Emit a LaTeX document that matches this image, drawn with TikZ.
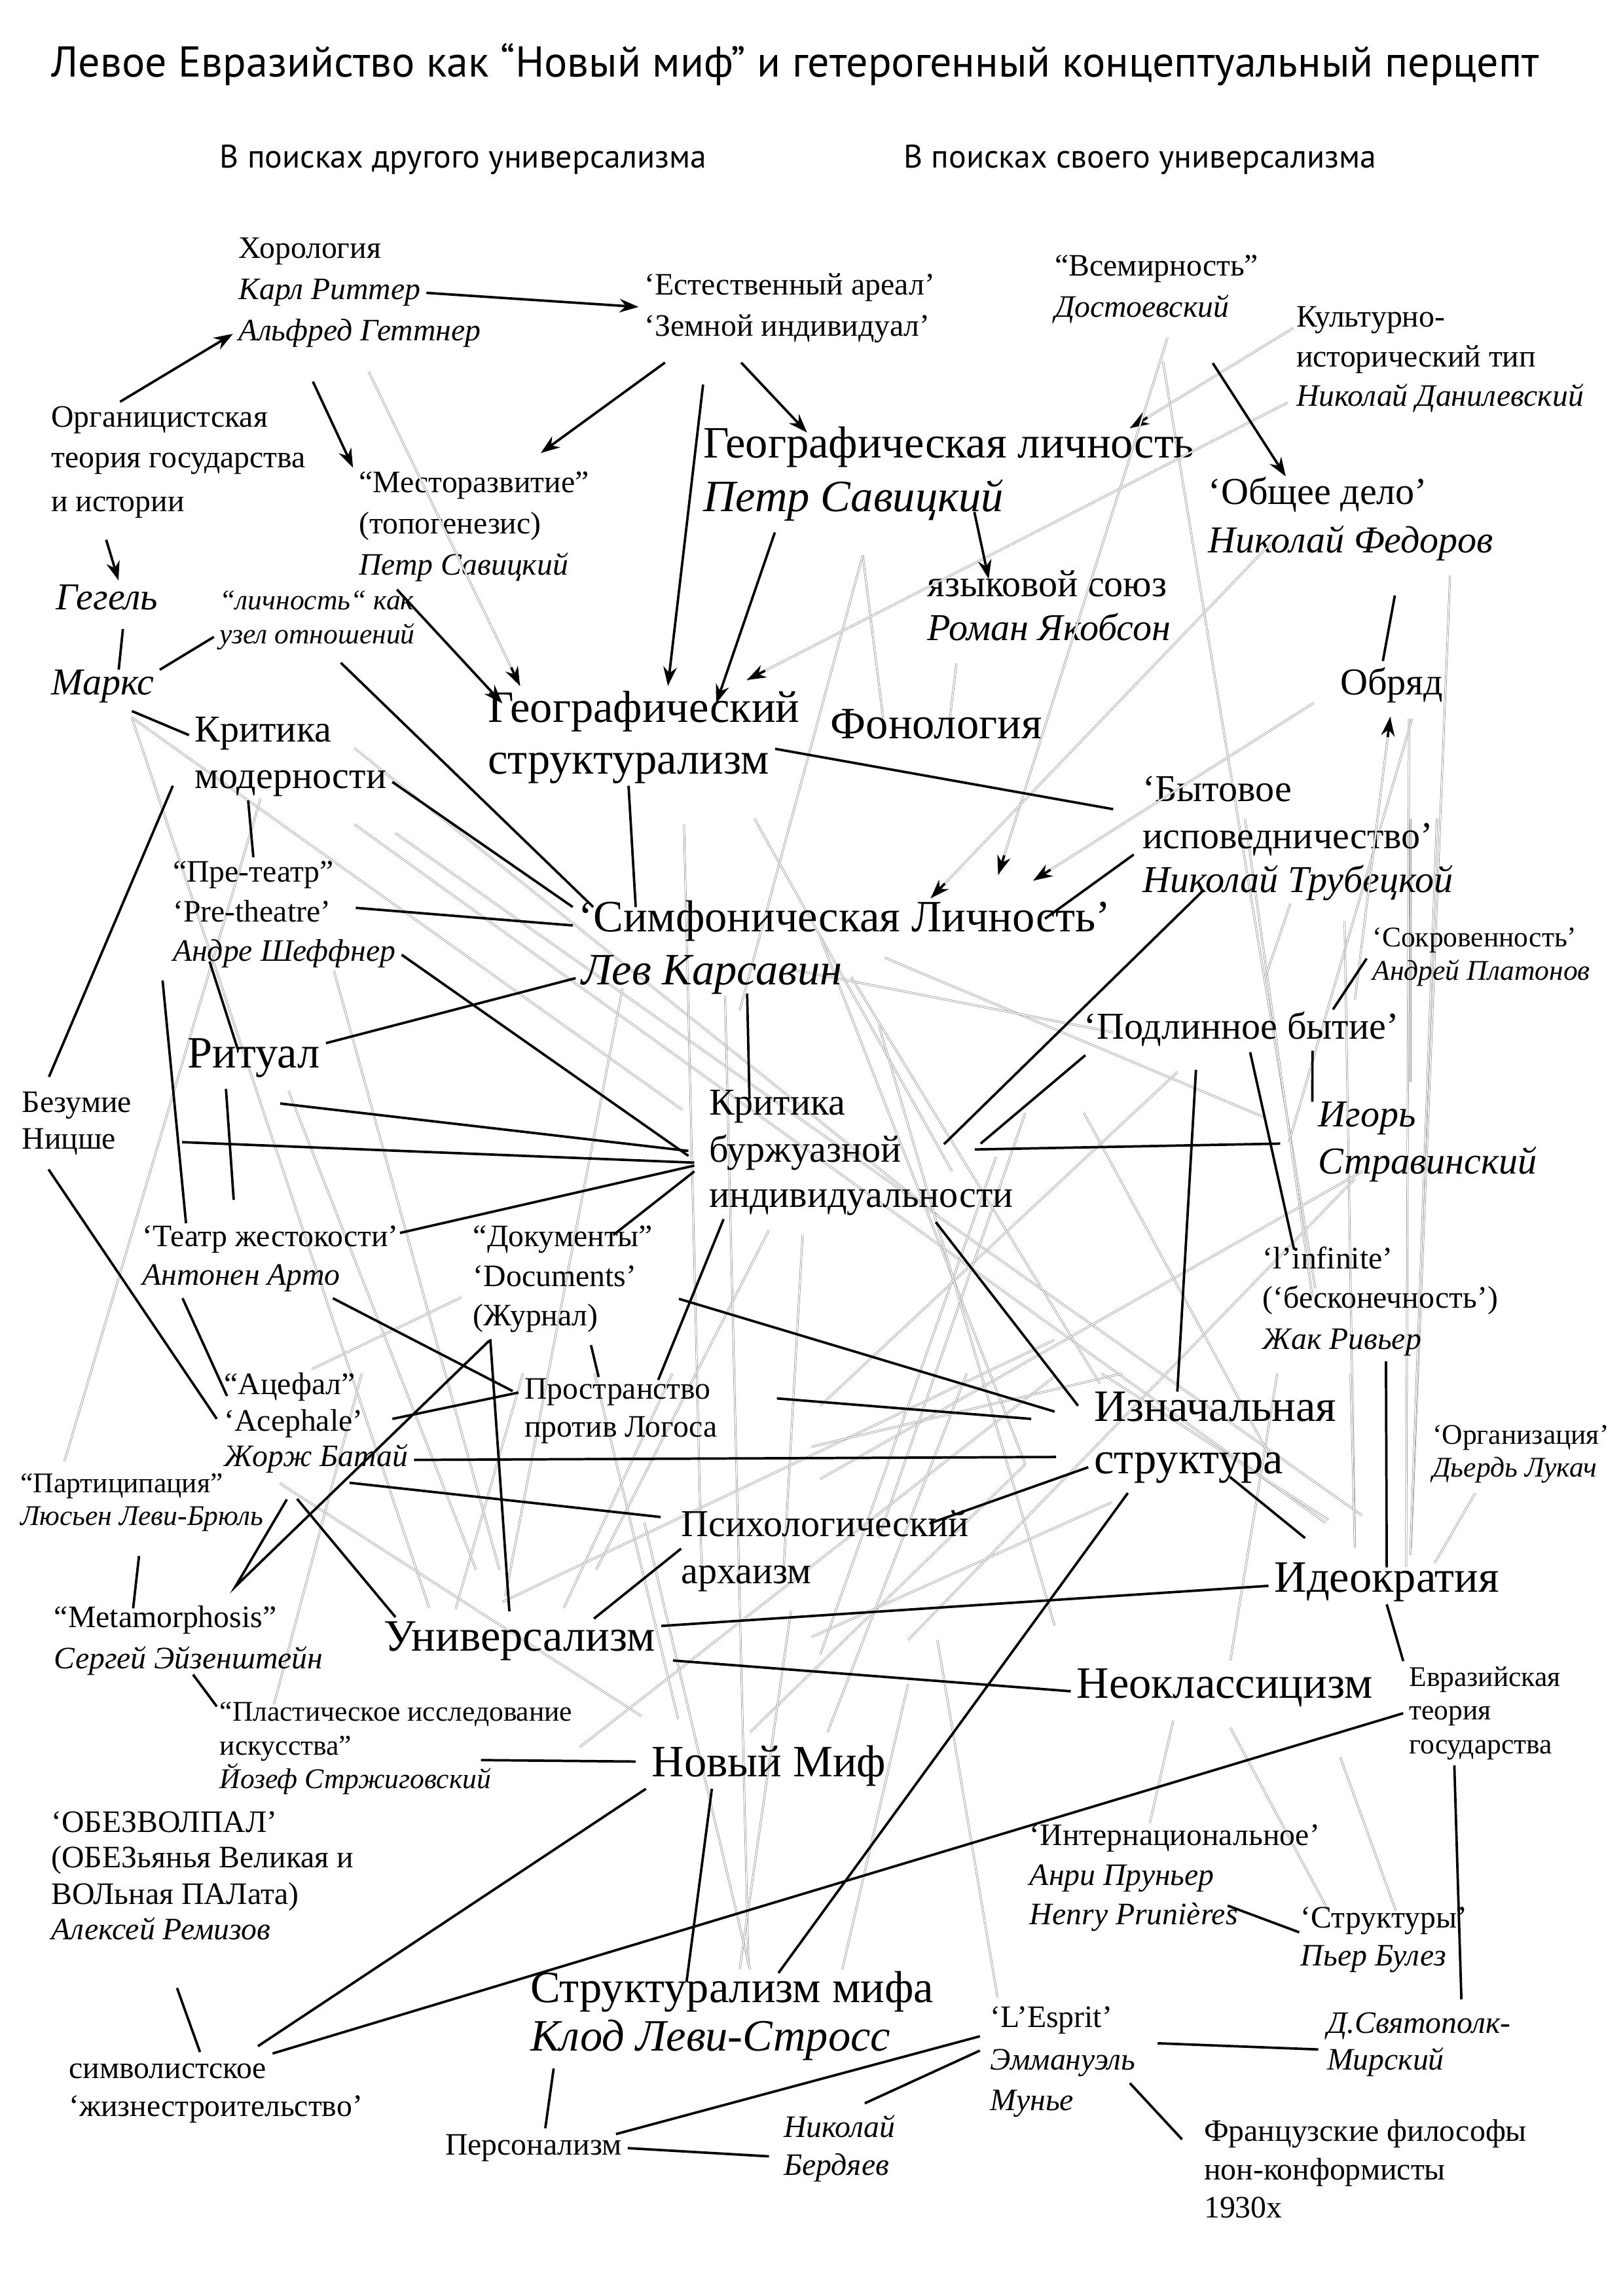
\documentclass[tikz,border=0pt]{standalone}
\usepackage{fontspec}
\setmainfont{Liberation Serif}
\newfontfamily\titlefont{PT Sans}
\usetikzlibrary{arrows.meta,calc}

\begin{document}
\begin{tikzpicture}[x=0.018953cm, y=-0.018953cm,
  every node/.style={anchor=west, inner sep=2pt, text height=0.7em, text depth=0.22em},
  big/.style={font=\fontsize{16.5}{20}\selectfont},
  mid/.style={font=\fontsize{14}{17}\selectfont},
  norm/.style={font=\fontsize{11.5}{14}\selectfont},
  sm/.style={font=\fontsize{10.5}{12.5}\selectfont},
  blk/.style={line width=0.9pt},
  arr/.style={blk, -{Stealth[length=7pt, width=5pt]}},
  gline/.style={draw=gray!85, line width=0.18pt, double=white, double distance=0.38pt}]
  \useasboundingbox (0,0) rectangle (1108,1568);

  % grey web
  \foreach \xa/\ya/\xb/\yb in {794/247/898/880, 589/379/603/491, 589/379/505/690, 653/453/648/495,
      990/393/963/1062, 962/491/960/1070, 964/491/880/780, 90/490/466/758, 90/490/293/1098,
      178/545/44/998, 242/511/640/830, 242/563/905/1040, 270/569/930/1035, 228/663/341/1072,
      197/745/325/1072, 467/563/479/1072, 425/675/345/1090, 515/559/650/800, 525/840/407/1072,
      548/843/535/1072, 213/935/315/886, 604/654/863/763, 540/662/760/705, 581/667/751/945,
      850/559/896/886, 918/629/925/1057, 963/559/963/739, 981/559/963/1057, 881/617/863/670,
      804/732/560/960, 930/800/560/1010, 925/805/620/1120, 191/1013/438/1172, 187/1164/247/938,
      311/1099/357/938, 343/1094/720/915, 385/1098/459/938, 396/1193/720/940, 463/1174/406/938,
      495/680/511/1342, 512/1183/700/1000, 554/988/766/938, 554/1118/759/1026, 565/1183/660/938,
      785/1245/801/1175, 840/1134/872/938, 840/1180/907/1305, 915/1200/953/1305, 925/1056/922/938,
      752/938/907/1038, 440/1040/512/1345, 620/1150/575/1345, 540/1100/505/1345, 640/1120/681/1364,
      560/640/700/1000, 700/760/600/1050, 680/790/560/1130, 740/760/870/1000, 600/700/720/1110}
    \draw[gline] (\xa,\ya) -- (\xb,\yb);

  % headings
  \node[font=\titlefont\fontsize{15.9}{18}\selectfont] (title) at (31,48) {Левое Евразийство как “Новый миф” и гетерогенный концептуальный перцепт};
  \node[font=\titlefont\fontsize{12}{14}\selectfont] (sub1) at (146,110) {В поисках другого универсализма};
  \node[font=\titlefont\fontsize{12}{14}\selectfont] (sub2) at (613,110) {В поисках своего универсализма};

  % nodes
  \node[norm] (horo1) at (159,172) {Хорология};
  \node[norm] (horo2) at (159,200) {\textit{Карл Риттер}};
  \node[norm] (horo3) at (159,228) {\textit{Альфред Геттнер}};
  \node[norm] (areal1) at (436,197) {‘Естественный ареал’};
  \node[norm] (areal2) at (436,225) {‘Земной индивидуал’};
  \node[norm] (vsem1) at (716,184) {“Всемирность”};
  \node[norm] (vsem2) at (716,212) {\textit{Достоевский}};
  \node[norm] (kult1) at (881,219) {Культурно-};
  \node[norm] (kult2) at (881,246) {исторический тип};
  \node[norm] (kult3) at (881,273) {\textit{Николай Данилевский}};
  \node[norm] (org1) at (31,287) {Органицистская};
  \node[norm] (org2) at (31,315) {теория государства};
  \node[norm] (org3) at (31,345) {и истории};
  \node[big] (geoL1) at (476,308) {Географическая личность};
  \node[big] (geoL2) at (476,345) {\textit{Петр Савицкий}};
  \node[norm] (mesto1) at (241,332) {“Месторазвитие”};
  \node[norm] (mesto2) at (241,360) {(топогенезис)};
  \node[norm] (mesto3) at (241,388) {\textit{Петр Савицкий}};
  \node[mid] (delo1) at (821,340) {‘Общее дело’};
  \node[mid] (delo2) at (821,373) {\textit{Николай Федоров}};
  \node[mid] (yaz1) at (629,403) {языковой союз};
  \node[mid] (yaz2) at (629,433) {\textit{Роман Якобсон}};
  \node[mid] (gegel) at (34,412) {\textit{Гегель}};
  \node[sm] (uzel1) at (146,412) {\textit{“личность“ как}};
  \node[sm] (uzel2) at (146,435) {\textit{узел отношений}};
  \node[mid] (marx) at (31,470) {\textit{Маркс}};
  \node[mid] (obr) at (911,470) {Обряд};
  \node[big] (geoS1) at (329,489) {Географический};
  \node[big] (geoS2) at (329,524) {структурализм};
  \node[big] (fono) at (563,500) {Фонология};
  \node[mid] (krm1) at (129,502) {Критика};
  \node[mid] (krm2) at (129,534) {модерности};
  \node[mid] (byt1) at (776,543) {‘Бытовое};
  \node[mid] (byt2) at (776,575) {исповедничество’};
  \node[mid] (byt3) at (776,605) {\textit{Николай Трубецкой}};
  \node[norm] (pre1) at (114,598) {“Пре-театр”};
  \node[norm] (pre2) at (114,625) {‘Pre-theatre’};
  \node[norm] (pre3) at (114,652) {\textit{Андре Шеффнер}};
  \node[big] (simf1) at (391,632) {‘Симфоническая Личность’};
  \node[big] (simf2) at (393,668) {\textit{Лев Карсавин}};
  \node[sm] (sokr1) at (933,642) {‘Сокровенность’};
  \node[sm] (sokr2) at (933,665) {\textit{Андрей Платонов}};
  \node[mid] (podl) at (736,705) {‘Подлинное бытие’};
  \node[big] (rit) at (124,725) {Ритуал};
  \node[norm] (bez1) at (11,755) {Безумие};
  \node[norm] (bez2) at (11,780) {Ницше};
  \node[mid] (krb1) at (480,757) {Критика};
  \node[mid] (krb2) at (480,789) {буржуазной};
  \node[mid] (krb3) at (480,820) {индивидуальности};
  \node[mid] (igor1) at (896,765) {\textit{Игорь}};
  \node[mid] (igor2) at (896,797) {\textit{Стравинский}};
  \node[norm] (teat1) at (93,847) {‘Театр жестокости’};
  \node[norm] (teat2) at (93,873) {\textit{Антонен Арто}};
  \node[norm] (doc1) at (319,847) {“Документы”};
  \node[norm] (doc2) at (319,874) {‘Documents’};
  \node[norm] (doc3) at (319,901) {(Журнал)};
  \node[norm] (inf1) at (858,862) {‘l’infinite’};
  \node[norm] (inf2) at (858,889) {(‘бесконечность’)};
  \node[norm] (inf3) at (858,917) {\textit{Жак Ривьер}};
  \node[norm] (acef1) at (149,948) {“Ацефал”};
  \node[norm] (acef2) at (149,973) {‘Acephale’};
  \node[norm] (acef3) at (149,997) {\textit{Жорж Батай}};
  \node[norm] (prost1) at (354,951) {Пространство};
  \node[norm] (prost2) at (354,977) {против Логоса};
  \node[big] (izn1) at (743,966) {Изначальная};
  \node[big] (izn2) at (743,1002) {структура};
  \node[sm] (orgz1) at (974,982) {‘Организация’};
  \node[sm] (orgz2) at (974,1004) {\textit{Дьердь Лукач}};
  \node[sm] (part1) at (10,1015) {“Партиципация”};
  \node[sm] (part2) at (10,1037) {\textit{Люсьен Леви-Брюль}};
  \node[mid] (psy1) at (461,1045) {Психологический};
  \node[mid] (psy2) at (461,1077) {архаизм};
  \node[big] (ideo) at (866,1083) {Идеократия};
  \node[norm] (meta1) at (33,1107) {“Metamorphosis”};
  \node[norm] (meta2) at (33,1135) {\textit{Сергей Эйзенштейн}};
  \node[big] (univ) at (258,1123) {Универсализм};
  \node[big] (neo) at (731,1155) {Неоклассицизм};
  \node[sm] (evr1) at (958,1147) {Евразийская};
  \node[sm] (evr2) at (958,1170) {теория};
  \node[sm] (evr3) at (958,1193) {государства};
  \node[sm] (plas1) at (146,1171) {“Пластическое исследование};
  \node[sm] (plas2) at (146,1194) {искусства”};
  \node[sm] (plas3) at (146,1217) {\textit{Йозеф Стржиговский}};
  \node[big] (myth) at (441,1209) {Новый Миф};
  \node[norm] (obez1) at (31,1247) {‘ОБЕЗВОЛПАЛ’};
  \node[norm] (obez2) at (31,1271) {(ОБЕЗьянья Великая и};
  \node[norm] (obez3) at (31,1296) {ВОЛьная ПАЛата)};
  \node[norm] (obez4) at (31,1320) {\textit{Алексей Ремизов}};
  \node[norm] (intl1) at (699,1256) {‘Интернациональное’};
  \node[norm] (intl2) at (699,1283) {\textit{Анри Пруньер}};
  \node[norm] (intl3) at (699,1310) {\textit{Henry Prunières}};
  \node[norm] (str1) at (884,1312) {‘Структуры’};
  \node[norm] (str2) at (884,1338) {\textit{Пьер Булез}};
  \node[big] (strm1) at (358,1363) {Структурализм мифа};
  \node[big] (strm2) at (358,1396) {\textit{Клод Леви-Стросс}};
  \node[norm] (esp1) at (672,1380) {‘L’Esprit’};
  \node[norm] (esp2) at (672,1409) {\textit{Эммануэль}};
  \node[norm] (esp3) at (672,1437) {\textit{Мунье}};
  \node[norm] (mir1) at (902,1384) {\textit{Д.Святополк-}};
  \node[norm] (mir2) at (902,1409) {\textit{Мирский}};
  \node[norm] (simv1) at (43,1415) {символистское};
  \node[norm] (simv2) at (43,1441) {‘жизнестроительство’};
  \node[norm] (berd1) at (531,1455) {\textit{Николай}};
  \node[norm] (berd2) at (531,1481) {\textit{Бердяев}};
  \node[norm] (pers) at (300,1467) {Персонализм};
  \node[norm] (fr1) at (818,1458) {Французские философы};
  \node[norm] (fr2) at (818,1484) {нон-конформисты};
  \node[norm] (fr3) at (818,1510) {1930х};

  % grey arrows: double line, black tip
  \coordinate (g1a) at ([shift={(6,13)}]horo3.south);
  \coordinate (g1b) at ([shift={(26,-8)}]geoS1.north west);
  \coordinate (g2a) at ([shift={(2,5)}]kult1.west);
  \coordinate (g2b) at ([shift={(-48,-3)}]geoL1.north east);
  \coordinate (g3a) at ([shift={(-2,2)}]kult3.west);
  \coordinate (g3b) at ([shift={(-40,-12)}]geoS1.north east);
  \coordinate (g4a) at ([shift={(-46,6)}]vsem2.south east);
  \coordinate (g4b) at ([shift={(-81,-22)}]simf1.north east);
  \coordinate (g5a) at ([shift={(47,-15)}]delo2.south west);
  \coordinate (g5b) at ([shift={(-127,-6)}]simf1.north east);
  \coordinate (g6a) at ([shift={(-14,10)}]obr.west);
  \coordinate (g6b) at ([shift={(-57,-18)}]simf1.north east);
  \coordinate (g7a) at ([shift={(-8,5)}]sokr2.south west);
  \coordinate (g7b) at ([shift={(-1,7)}]obr.south);
  \foreach \i in {1,...,7} {
    \draw[gline] (g\i a) -- (g\i b);
    \draw[arr] ($(g\i b)!7.5pt!(g\i a)$) -- (g\i b);
  }
  \draw[gline] ([shift={(-27,3)}]orgz2.south) -- ([shift={(-48,-3)}]ideo.north east);

  % black connectors, top
  \draw[arr] (horo2.east) -- (areal1.south west);
  \draw[arr] ([shift={(-27,0)}]org1.north) -- (horo3.west);
  \draw[arr] ([shift={(-32,20)}]horo3.south) -- (mesto1.north west);
  \draw[arr] ([shift={(18,10)}]areal2.south west) -- ([shift={(-37,-10)}]mesto1.north east);
  \draw[arr] ([shift={(70,10)}]areal2.south west) -- ([shift={(75,0)}]geoL1.north west);
  \draw[arr] ([shift={(44,25)}]areal2.south west) -- ([shift={(127,-8)}]geoS1.north west);
  \draw[arr] ([shift={(53,6)}]geoL2.south west) -- ([shift={(-61,4)}]geoS1.north east);
  \draw[arr] ([shift={(30,2)}]mesto3.south west) -- ([shift={(14,4)}]geoS1.north west);
  \draw[arr] ([shift={(-53,2)}]kult2.west) -- ([shift={(-22,-2)}]delo1.north);
  \draw[arr] ([shift={(-24,-8)}]geoL2.south east) -- ([shift={(46,5)}]yaz1.north west);
  \draw[blk] ([shift={(30,21)}]delo2.south) -- ([shift={(-6,-6)}]obr.north);
  \draw[arr] ([shift={(-8,11)}]org3.south) -- ([shift={(8,-3)}]gegel.north);
  \draw[blk] ([shift={(11,5)}]gegel.south) -- ([shift={(11,0)}]marx.north);
  \draw[blk] (marx.north east) -- (uzel2.west);
  \draw[blk] ([shift={(20,3)}]marx.south) -- (krm1.west);
  \draw[blk] ([shift={(-29,0)}]krm2.south) -- (pre1.north);
  \draw[blk] (krm2.east) -- (simf1.north west);
  \draw[blk] ([shift={(16,5)}]uzel2.south) -- ([shift={(14,0)}]simf1.north west);
  \draw[blk] (geoS2.south) -- ([shift={(43,0)}]simf1.north west);
  \draw[blk] (geoS2.north east) -- ([shift={(-16,-3)}]byt1.south west);
  \draw[blk] ([shift={(-2,-4)}]byt2.south west) -- ([shift={(-49,8)}]simf1.north east);
  \draw[blk] ([shift={(46,-10)}]byt3.south west) -- ([shift={(25,5)}]krb2.north east);

  % black connectors, middle
  \draw[blk] ([shift={(5,3)}]podl.south west) -- ([shift={(50,-8)}]krb2.east);
  \draw[blk] ([shift={(46,-4)}]krb2.east) -- ([shift={(-22,16)}]igor1.west);
  \draw[blk] ([shift={(-31,13)}]podl.south) -- ([shift={(-26,-3)}]izn1.north);
  \draw[blk] ([shift={(6,1)}]podl.south) -- ([shift={(-23,4)}]inf1.north);
  \draw[blk] ([shift={(-63,0)}]podl.south east) -- (igor1.north west);
  \draw[blk] (sokr1.south west) -- ([shift={(-49,-3)}]podl.north east);
  \draw[blk] ([shift={(-57,2)}]krb3.south east) -- ([shift={(-7,-6)}]izn1.west);
  \draw[blk] ([shift={(25,13)}]doc2.east) -- ([shift={(-23,-2)}]izn1.west);
  \draw[blk] ([shift={(41,4)}]prost1.east) -- ([shift={(-39,3)}]izn1.west);
  \draw[blk] (acef3.east) -- ([shift={(-22,-7)}]izn2.west);
  \draw[blk] (izn2.west) -- ([shift={(-31,8)}]psy1.north east);
  \draw[blk] ([shift={(28,-6)}]izn2.south) -- ([shift={(25,-20)}]ideo.north west);
  \draw[blk] ([shift={(30,0)}]inf3.south) -- (ideo.north);
  \draw[blk] (univ.north east) -- (ideo.west);
  \draw[blk] ([shift={(8,11)}]univ.east) -- (neo.west);
  \draw[blk] (ideo.south) -- (evr1.north west);
  \draw[blk] (evr2.west) -- (simv1.north east);
  \draw[blk] ([shift={(27,5)}]izn2.south west) -- ([shift={(-110,-3)}]strm1.north east);
  \draw[blk] ([shift={(-18,0)}]evr3.south) -- ([shift={(29,-6)}]mir1.north);
  \draw[blk] ([shift={(18,16)}]rit.south) -- ([shift={(-10,-3)}]krb2.west);
  \draw[blk] ([shift={(41,0)}]bez2.east) -- ([shift={(-6,5)}]krb2.west);
  \draw[blk] ([shift={(-3,-5)}]teat1.east) -- ([shift={(-6,7)}]krb2.west);
  \draw[blk] ([shift={(-31,9)}]doc1.north east) -- ([shift={(-6,11)}]krb2.west);
  \draw[blk] ([shift={(14,0)}]krb3.south west) -- ([shift={(-40,4)}]prost1.north east);
  \draw[blk] ([shift={(24,-2)}]simf2.south) -- ([shift={(-19,6)}]krb1.north);
  \draw[blk] (simf2.west) -- (rit.north east);
  \draw[blk] (pre3.east) -- ([shift={(-10,13)}]krb2.north west);
  \draw[blk] ([shift={(13,-5)}]pre2.east) -- (simf1.west);
  \draw[blk] ([shift={(-51,-8)}]pre3.south) -- ([shift={(-11,4)}]rit.north);
  \draw[blk] ([shift={(-3,5)}]pre3.south west) -- ([shift={(34,1)}]teat1.north west);
  \draw[blk] ([shift={(-19,6)}]rit.south) -- ([shift={(-25,-15)}]teat1.north);
  \draw[blk] ([shift={(-11,-10)}]krm2.south west) -- ([shift={(-19,-7)}]bez1.north);
  \draw[blk] ([shift={(-14,6)}]bez2.south) -- ([shift={(-1,-4)}]acef2.west);
  \draw[blk] ([shift={(-9,1)}]teat2.south east) -- ([shift={(-4,-1)}]prost1.west);
  \draw[blk] ([shift={(-40,1)}]teat2.south) -- ([shift={(6,18)}]acef1.north west);
  \draw[blk] ([shift={(16,-4)}]acef2.east) -- (prost1.west);
  \draw[blk] ([shift={(-44,3)}]acef3.south east) -- ([shift={(-10,-9)}]psy1.west);
  \draw[blk] ([shift={(-13,14)}]acef3.south) -- ([shift={(12,-6)}]univ.north west);
  \draw[blk] ([shift={(4,0)}]psy1.south west) -- ([shift={(-46,-5)}]univ.north east);
  \coordinate (mv) at ([shift={(-32,-11)}]meta1.north east);
  \draw[blk] ([shift={(15,2)}]doc3.south west) -- (mv) -- ([shift={(12,-13)}]part2.east);
  \draw[blk] ([shift={(-31,1)}]doc3.south) -- ([shift={(-7,-10)}]univ.north);
  \draw[blk] ([shift={(-9,5)}]doc3.south east) -- ([shift={(-13,2)}]prost1.north);

  % black connectors, bottom
  \draw[blk] ([shift={(-2,13)}]part2.south) -- ([shift={(-22,4)}]meta1.north);
  \draw[blk] ([shift={(3,-4)}]meta2.south) -- ([shift={(2,7)}]plas1.north west);
  \draw[blk] ([shift={(-11,-15)}]plas3.east) -- ([shift={(-7,-6)}]myth.west);
  \draw[blk] (myth.south west) -- ([shift={(-10,-5)}]simv1.north east);
  \draw[blk] ([shift={(-39,0)}]myth.south) -- ([shift={(-31,3)}]strm1.north);
  \draw[blk] ([shift={(11,25)}]obez4.south) -- ([shift={(22,-1)}]simv1.north);
  \draw[blk] ([shift={(20,4)}]strm2.south west) -- ([shift={(8,-1)}]pers.north);
  \draw[blk] ([shift={(-8,3)}]pers.north east) -- ([shift={(-3,-2)}]esp1.south west);
  \draw[blk] (pers.east) -- ([shift={(-6,5)}]berd1.south west);
  \draw[blk] ([shift={(-3,4)}]esp2.north west) -- ([shift={(-25,-6)}]berd1.north east);
  \draw[blk] ([shift={(11,-1)}]esp2.north east) -- ([shift={(-2,3)}]mir1.south west);
  \draw[blk] ([shift={(-8,1)}]esp2.south east) -- ([shift={(-11,3)}]fr1.west);
  \draw[blk] ([shift={(-11,4)}]intl3.north east) -- ([shift={(3,-5)}]str1.south west);
\end{tikzpicture}
\end{document}
